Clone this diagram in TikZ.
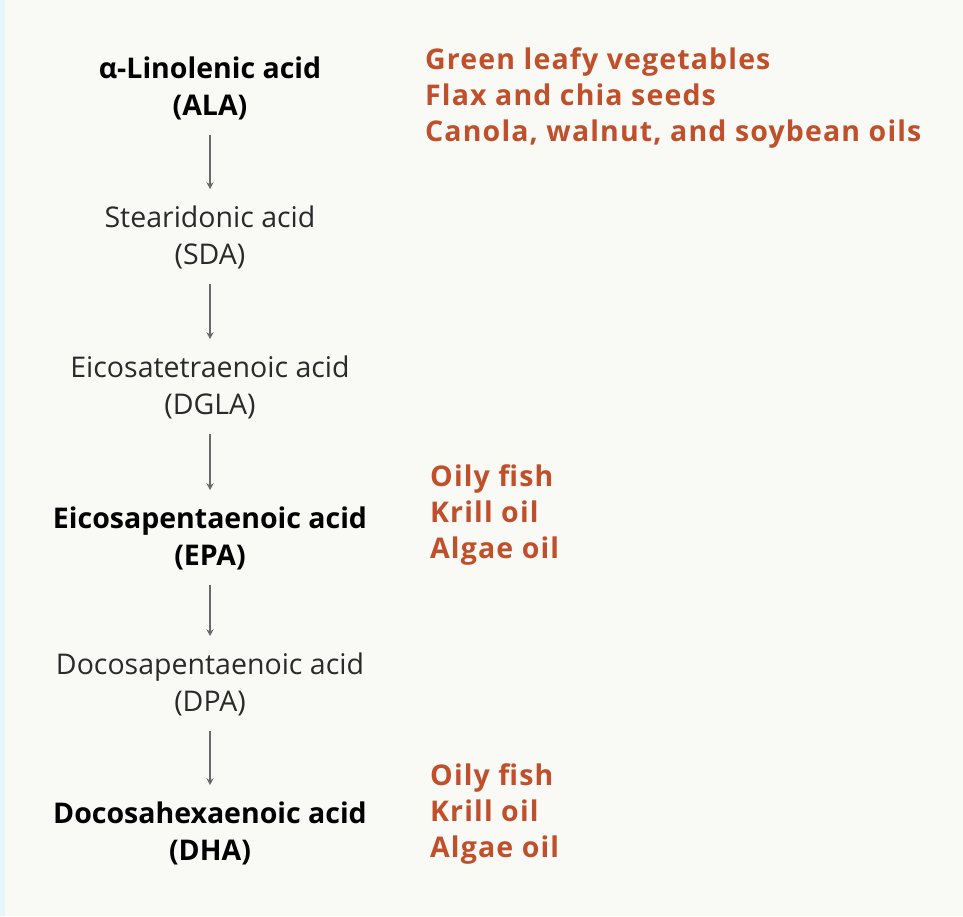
\documentclass[tikz,border=0pt]{standalone}
\usepackage{fontspec}
\setmainfont{Open Sans}
\newfontfamily\srcfont[LetterSpace=4]{Open Sans}
\usetikzlibrary{arrows.meta}
\definecolor{bgcol}{HTML}{F9F9F6}
\definecolor{stripcol}{HTML}{E6F5FA}
\definecolor{srccol}{HTML}{C0502B}
\definecolor{txtcol}{HTML}{2A2A2A}
\definecolor{arrcol}{HTML}{6A6A6A}
\begin{document}
\begin{tikzpicture}[x=1pt,y=-1pt,
  acid/.style={font=\fontsize{28.5}{37}\selectfont, align=center, text=txtcol, inner sep=0pt},
  keyacid/.style={acid, font=\fontsize{28.5}{37}\selectfont\bfseries, text=black},
  source/.style={font=\srcfont\fontsize{28.5}{36}\selectfont\bfseries, text=srccol, align=left, anchor=west, inner sep=0pt},
  conv/.style={draw=arrcol, line width=1.2pt, -{Stealth[length=7pt,width=7pt]}, shorten <=15pt, shorten >=16pt}]
\fill[bgcol] (0,0) rectangle (963,916);
\fill[stripcol] (0,0) rectangle (5,916);
\useasboundingbox (0,0) rectangle (963,916);
\node[keyacid] (ala) at (210,88) {α-Linolenic acid\\(ALA)};
\node[acid] (sda) at (210,237) {Stearidonic acid\\(SDA)};
\node[acid] (dgla) at (210,387) {Eicosatetraenoic acid\\(DGLA)};
\node[keyacid] (epa) at (210,538) {Eicosapentaenoic acid\\(EPA)};
\node[acid] (dpa) at (210,684) {Docosapentaenoic acid\\(DPA)};
\node[keyacid] (dha) at (210,833) {Docosahexaenoic acid\\(DHA)};
\node[source] (s1) at (425,98) {Green leafy vegetables\\Flax and chia seeds\\Canola, walnut, and soybean oils};
\node[source] (s2) at (430,515) {Oily fish\\Krill oil\\Algae oil};
\node[source] (s3) at (430,814) {Oily fish\\Krill oil\\Algae oil};
\draw[conv] (ala) -- (sda);
\draw[conv] (sda) -- (dgla);
\draw[conv] (dgla) -- (epa);
\draw[conv] (epa) -- (dpa);
\draw[conv] (dpa) -- (dha);
\end{tikzpicture}
\end{document}
